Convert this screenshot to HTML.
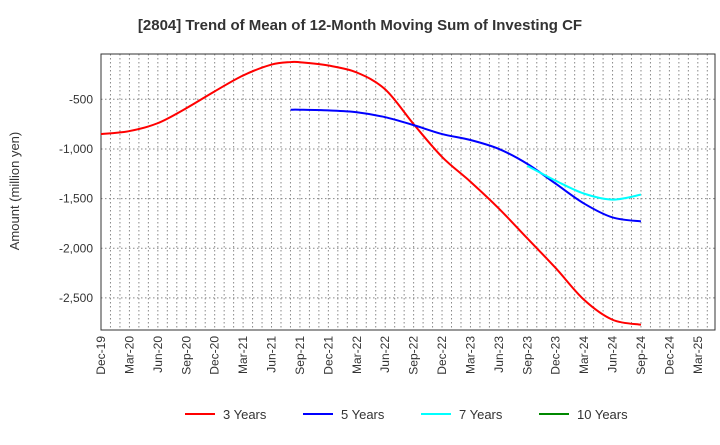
<!DOCTYPE html>
<html><head><meta charset="utf-8"><style>
body{margin:0;background:#fff;font-family:"Liberation Sans",sans-serif}
</style></head><body>
<svg id="chart" width="720" height="440" xmlns="http://www.w3.org/2000/svg">
<text x="360" y="30" text-anchor="middle" font-size="15" font-weight="bold" fill="#333">[2804]  Trend of Mean of 12-Month Moving Sum of Investing CF</text>
<text transform="translate(19,191) rotate(-90)" text-anchor="middle" font-size="13" fill="#333">Amount (million yen)</text>
<g id="grid"></g><g id="axes"></g><g id="series"></g><g id="legend"></g>
</svg>
<script>
const xLabels=["Dec-19","Mar-20","Jun-20","Sep-20","Dec-20","Mar-21","Jun-21","Sep-21","Dec-21","Mar-22","Jun-22","Sep-22","Dec-22","Mar-23","Jun-23","Sep-23","Dec-23","Mar-24","Jun-24","Sep-24","Dec-24","Mar-25"];
const yTicks=[-500,-1000,-1500,-2000,-2500];
const yTickLabels=["-500","-1,000","-1,500","-2,000","-2,500"];
const red3Idx=[0,1,2,3,4,5,6,6.67,7,8,9,10,11,12,13,14,15,16,17,18,19];
const red3=[-850,-820,-740,-590,-420,-260,-150,-125,-127,-160,-230,-400,-750,-1080,-1330,-1600,-1900,-2200,-2520,-2720,-2770];
const blue5Idx=[6.67,7,8,9,10,11,12,13,14,15,16,17,18,19];
const blue5=[-605,-605,-612,-630,-680,-760,-850,-910,-1000,-1150,-1350,-1550,-1690,-1730];
const cyan7Idx=[15,16,17,18,19];
const cyan7=[-1170,-1320,-1450,-1510,-1460];
const green10=[];
const NS="http://www.w3.org/2000/svg";
const L=101,R=715,T=54,B=330;
const X=i=>L+i*28.42;
const Y=v=>99.3+(-500-v)*0.0993;
function mk(tag,attrs,parent){const e=document.createElementNS(NS,tag);for(const k in attrs)e.setAttribute(k,attrs[k]);parent.appendChild(e);return e;}
const grid=document.getElementById('grid'),axes=document.getElementById('axes'),ser=document.getElementById('series'),leg=document.getElementById('legend');
for(let m=1;m<65;m++){const x=L+m*28.42/3;if(x>=R)break;const g=mk('line',{x1:x,x2:x,y1:T,y2:B,stroke:'#888','stroke-dasharray':'1.5,2.5'},grid);

}
yTicks.forEach((v,i)=>{const g=mk('line',{x1:L,x2:R,y1:Y(v),y2:Y(v),stroke:'#888','stroke-dasharray':'1.5,2.5'},grid);


const t=mk('text',{x:L-8,y:Y(v)+4,'text-anchor':'end','font-size':12,fill:'#333'},axes);t.textContent=yTickLabels[i];

});
xLabels.forEach((s,i)=>{const t=mk('text',{transform:`translate(${X(i)+4},${B+6}) rotate(-90)`,'text-anchor':'end','font-size':12,fill:'#333'},axes);t.textContent=s;

});
const frame=mk('rect',{x:L,y:T,width:R-L,height:B-T,fill:'none',stroke:'#333'},axes);


function path(idx,vals){const p=idx.map((i,k)=>[X(i),Y(vals[k])]);if(!p.length)return'';let d=`M${p[0][0]},${p[0][1]}`;
for(let i=0;i<p.length-1;i++){const p0=p[i-1]||p[i],p1=p[i],p2=p[i+1],p3=p[i+2]||p2;
d+=` C${p1[0]+(p2[0]-p0[0])/6},${p1[1]+(p2[1]-p0[1])/6} ${p2[0]-(p3[0]-p1[0])/6},${p2[1]-(p3[1]-p1[1])/6} ${p2[0]},${p2[1]}`;}return d;}
[[red3Idx,red3,'#f00','series-3-years'],[blue5Idx,blue5,'#00f','series-5-years'],[cyan7Idx,cyan7,'#0ff','series-7-years'],[[],green10,'#080','series-10-years']].forEach(([ix,v,c,n])=>{
if(!v.length)return;const e=mk('path',{d:path(ix,v),fill:'none',stroke:c,'stroke-width':2},ser);

});
[['3 Years','#f00',185],['5 Years','#00f',303],['7 Years','#0ff',421],['10 Years','#080',539]].forEach(([s,c,x])=>{
const g=mk('g',{},leg);


mk('line',{x1:x,x2:x+30,y1:414,y2:414,stroke:c,'stroke-width':2},g);
const t=mk('text',{x:x+38,y:419,'font-size':13,fill:'#333'},g);t.textContent=s;});
</script>
</body></html>
